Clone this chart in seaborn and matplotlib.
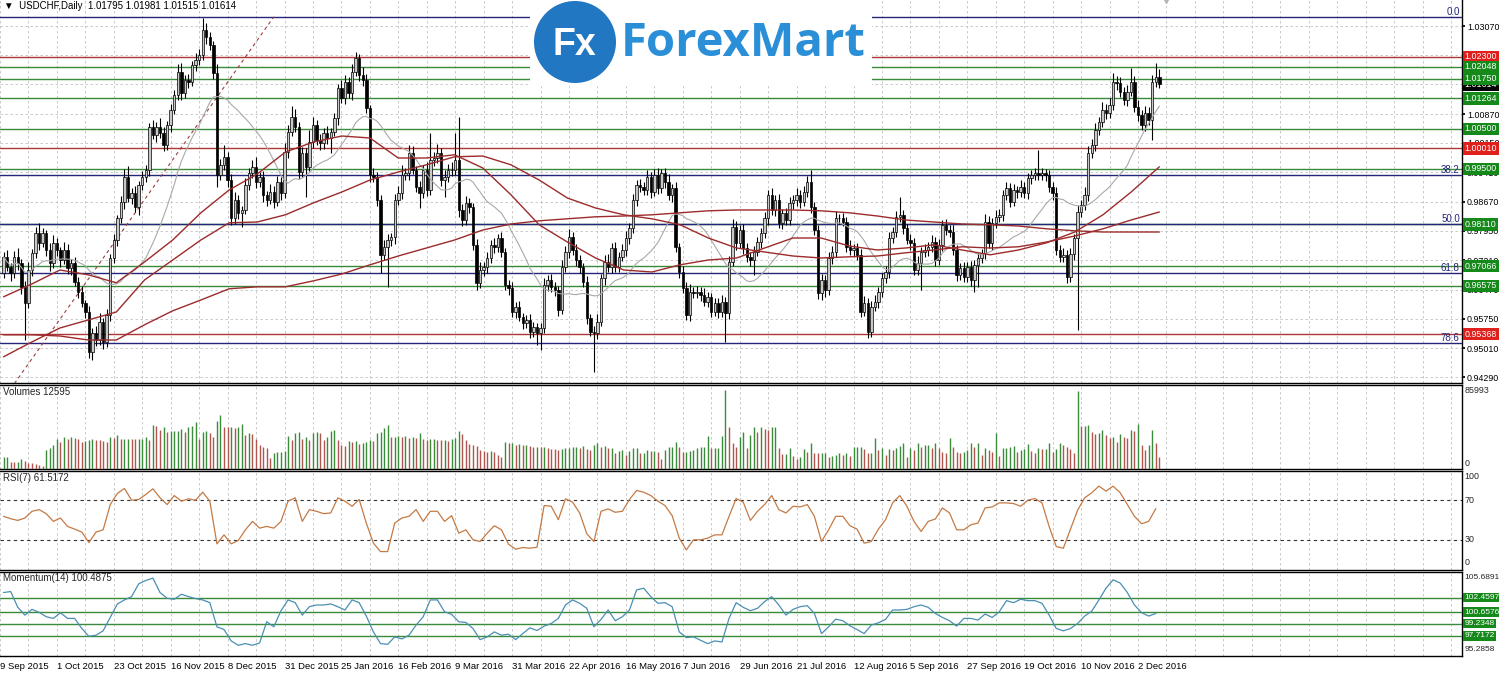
import numpy as np
import pandas as pd
import matplotlib
matplotlib.use("Agg")
import matplotlib.pyplot as plt
import seaborn as sns
from matplotlib.patches import Rectangle, Circle

# ---------------- data ----------------
first_open = 0.9690
close = [
    0.9730, 0.9705, 0.9689, 0.9730, 0.9714, 0.9655, 0.9614, 0.9697, 0.9739, 0.9789,
    0.9764, 0.9789, 0.9747, 0.9714, 0.9764, 0.9747, 0.9722, 0.9747, 0.9701, 0.9714,
    0.9668, 0.9643, 0.9614, 0.9593, 0.9493, 0.9539, 0.9522, 0.9568, 0.9518, 0.9585,
    0.9726, 0.9772, 0.9826, 0.9868, 0.9930, 0.9876, 0.9889, 0.9855, 0.9910, 0.9930,
    0.9947, 1.0055, 1.0035, 1.0055, 1.0039, 1.0010, 1.0060, 1.0097, 1.0135, 1.0193,
    1.0139, 1.0172, 1.0168, 1.0210, 1.0222, 1.0235, 1.0297, 1.0280, 1.0260, 1.0189,
    0.9935, 0.9960, 0.9980, 0.9922, 0.9826, 0.9872, 0.9839, 0.9847, 0.9910, 0.9939,
    0.9955, 0.9918, 0.9930, 0.9885, 0.9872, 0.9893, 0.9868, 0.9918, 0.9889, 0.9993,
    1.0043, 1.0080, 1.0055, 0.9943, 0.9989, 0.9955, 1.0018, 1.0060, 1.0022, 1.0014,
    1.0039, 1.0026, 1.0043, 1.0076, 1.0151, 1.0126, 1.0168, 1.0139, 1.0193, 1.0226,
    1.0185, 1.0172, 1.0101, 0.9935, 0.9930, 0.9872, 0.9735, 0.9755, 0.9772, 0.9780,
    0.9872, 0.9889, 0.9935, 0.9939, 0.9989, 0.9947, 0.9905, 0.9889, 0.9947, 0.9897,
    0.9972, 0.9976, 0.9989, 0.9922, 0.9930, 0.9947, 0.9947, 0.9972, 0.9847, 0.9822,
    0.9864, 0.9855, 0.9760, 0.9664, 0.9697, 0.9705, 0.9726, 0.9760, 0.9755, 0.9776,
    0.9743, 0.9660, 0.9651, 0.9593, 0.9605, 0.9580, 0.9564, 0.9572, 0.9543, 0.9555,
    0.9539, 0.9551, 0.9660, 0.9672, 0.9655, 0.9647, 0.9597, 0.9705, 0.9743, 0.9780,
    0.9747, 0.9722, 0.9705, 0.9668, 0.9576, 0.9543, 0.9539, 0.9568, 0.9676, 0.9718,
    0.9705, 0.9751, 0.9705, 0.9730, 0.9747, 0.9776, 0.9801, 0.9872, 0.9910, 0.9905,
    0.9897, 0.9930, 0.9893, 0.9935, 0.9901, 0.9939, 0.9918, 0.9885, 0.9901, 0.9755,
    0.9693, 0.9651, 0.9585, 0.9643, 0.9639, 0.9643, 0.9635, 0.9618, 0.9630, 0.9593,
    0.9614, 0.9593, 0.9618, 0.9589, 0.9718, 0.9805, 0.9764, 0.9797, 0.9751, 0.9730,
    0.9722, 0.9743, 0.9768, 0.9789, 0.9826, 0.9885, 0.9847, 0.9872, 0.9814, 0.9839,
    0.9822, 0.9864, 0.9872, 0.9885, 0.9868, 0.9893, 0.9918, 0.9855, 0.9797, 0.9639,
    0.9672, 0.9647, 0.9726, 0.9743, 0.9826, 0.9826, 0.9818, 0.9755, 0.9747, 0.9751,
    0.9735, 0.9593, 0.9614, 0.9543, 0.9605, 0.9618, 0.9643, 0.9676, 0.9693, 0.9776,
    0.9793, 0.9830, 0.9835, 0.9801, 0.9772, 0.9764, 0.9697, 0.9714, 0.9743, 0.9747,
    0.9755, 0.9768, 0.9722, 0.9760, 0.9810, 0.9797, 0.9793, 0.9747, 0.9685, 0.9701,
    0.9680, 0.9705, 0.9672, 0.9710, 0.9726, 0.9739, 0.9818, 0.9764, 0.9814, 0.9830,
    0.9835, 0.9885, 0.9901, 0.9868, 0.9897, 0.9893, 0.9905, 0.9889, 0.9926, 0.9935,
    0.9939, 0.9935, 0.9939, 0.9935, 0.9905, 0.9889, 0.9747, 0.9730, 0.9735, 0.9680,
    0.9737, 0.9776, 0.9843, 0.9860, 0.9885, 0.9989, 1.0010, 1.0047, 1.0068, 1.0097,
    1.0089, 1.0110, 1.0168, 1.0164, 1.0143, 1.0122, 1.0143, 1.0168, 1.0105, 1.0085,
    1.0060, 1.0089, 1.0072, 1.0168, 1.01795, 1.01614,
]
wick_up_pips = [
    12, 18, 9, 15, 22, 10, 14, 20, 11, 16, 25, 13, 9, 17, 21, 12, 8, 19, 14, 10,
    16, 11, 13, 8, 15, 12, 18, 22, 9, 14, 11, 16, 9, 14, 20, 26, 12, 17, 10, 15,
    13, 9, 18, 12, 21, 15, 10, 14, 11, 19, 22, 13, 16, 9, 18, 14, 31, 17, 12, 10,
    24, 15, 30, 11, 14, 20, 12, 9, 16, 13, 18, 25, 11, 14, 10, 19, 13, 15, 12, 21,
    17, 26, 20, 12, 16, 14, 28, 19, 11, 15, 13, 17, 10, 14, 12, 22, 16, 11, 18, 15,
    12, 20, 14, 9, 16, 11, 13, 18, 15, 10, 14, 17, 24, 12, 20, 18, 11, 15, 13, 19,
    67, 16, 22, 13, 17, 14, 20, 67, 108, 15, 18, 12, 10, 14, 20, 11, 16, 13, 18, 12,
    15, 9, 12, 17, 11, 14, 10, 13, 16, 12, 10, 14, 18, 13, 16, 12, 11, 17, 15, 19,
    13, 16, 12, 10, 15, 11, 14, 18, 12, 16, 20, 14, 17, 12, 15, 18, 13, 16, 11, 14,
    12, 17, 13, 15, 18, 11, 14, 20, 12, 16, 10, 13, 15, 18, 12, 14, 11, 16, 13, 10,
    14, 12, 17, 11, 15, 20, 14, 12, 16, 13, 11, 15, 12, 14, 17, 13, 18, 12, 15, 11,
    14, 16, 12, 18, 13, 15, 14, 29, 11, 13, 16, 12, 15, 13, 18, 11, 14, 12, 16, 10,
    13, 15, 18, 12, 14, 16, 11, 13, 15, 17, 12, 14, 45, 13, 11, 16, 14, 18, 12, 15,
    13, 16, 12, 14, 11, 15, 13, 17, 12, 14, 16, 12, 15, 13, 14, 11, 18, 15, 12, 16,
    14, 12, 17, 13, 15, 11, 16, 12, 14, 13, 12, 58, 14, 11, 13, 12, 15, 13, 16, 12,
    14, 12, 16, 13, 20, 18, 15, 17, 12, 19, 14, 16, 22, 13, 15, 12, 17, 33, 14, 16,
    12, 18, 15, 16, 34, 19,
]
wick_dn_pips = [
    14, 10, 19, 12, 16, 18, 92, 11, 15, 13, 17, 9, 14, 20, 12, 15, 18, 11, 13, 16,
    12, 15, 10, 17, 15, 21, 14, 12, 18, 13, 16, 11, 14, 12, 18, 10, 15, 13, 20, 12,
    14, 16, 11, 19, 13, 15, 12, 17, 10, 14, 18, 12, 15, 11, 16, 13, 14, 19, 12, 15,
    30, 14, 12, 17, 16, 13, 15, 34, 11, 14, 12, 16, 13, 18, 14, 11, 15, 12, 17, 13,
    15, 12, 14, 19, 13, 75, 11, 16, 12, 18, 14, 13, 37, 12, 16, 11, 15, 13, 17, 12,
    16, 14, 12, 18, 13, 15, 46, 12, 100, 14, 17, 12, 15, 13, 16, 11, 14, 38, 12, 15,
    13, 16, 11, 14, 42, 12, 15, 13, 18, 14, 12, 15, 13, 17, 11, 14, 16, 12, 15, 13,
    14, 12, 16, 13, 15, 11, 14, 12, 17, 13, 30, 42, 12, 15, 13, 16, 14, 11, 13, 15,
    12, 14, 16, 13, 15, 12, 97, 14, 11, 16, 13, 15, 12, 14, 11, 16, 13, 12, 15, 14,
    12, 13, 16, 11, 14, 12, 15, 13, 17, 14, 15, 12, 14, 16, 13, 11, 15, 12, 14, 13,
    12, 15, 13, 71, 14, 12, 16, 13, 15, 12, 14, 38, 12, 15, 13, 16, 12, 14, 11, 15,
    13, 12, 15, 14, 16, 12, 13, 15, 12, 14, 16, 17, 12, 14, 13, 15, 11, 14, 12, 16,
    13, 14, 12, 15, 13, 11, 16, 14, 12, 15, 12, 14, 13, 15, 11, 16, 13, 12, 67, 14,
    15, 12, 14, 13, 16, 12, 14, 13, 15, 12, 14, 13, 15, 30, 55, 12, 14, 13, 16, 12,
    13, 15, 12, 14, 11, 16, 13, 12, 15, 14, 12, 14, 13, 15, 12, 16, 13, 14, 12, 15,
    13, 16, 229, 14, 12, 15, 13, 16, 12, 14, 15, 13, 12, 16, 14, 13, 15, 12, 14, 16,
    13, 15, 12, 50, 14, 10,
]
volume = [
    13000, 13500, 8000, 7500, 7800, 11000, 9000, 6500, 6000, 5500,
    4500, 3500, 21000, 23000, 26000, 33000, 29500, 35000, 33000, 35000,
    34000, 33000, 29500, 30000, 31500, 33000, 31500, 31000, 30000, 29500,
    35000, 33500, 36500, 33000, 33000, 33000, 32500, 32000, 32500, 33000,
    34500, 31500, 47500, 46500, 42500, 45500, 40500, 41000, 41000, 41500,
    43000, 40500, 45000, 47000, 50500, 33000, 40500, 41000, 38500, 35000,
    52000, 58500, 46000, 45500, 45500, 44500, 45500, 48500, 37000, 38500,
    38000, 33000, 26000, 24000, 22500, 11500, 17000, 18000, 18500, 20000,
    36000, 31000, 39000, 40500, 33000, 35000, 31500, 38500, 40000, 38500,
    31000, 35000, 41000, 42000, 31500, 26500, 25000, 30500, 29000, 30000,
    27500, 28500, 29500, 31000, 30000, 38500, 40500, 44000, 47500, 35000,
    35000, 36000, 35000, 35500, 33500, 35000, 33500, 38500, 33000, 31500,
    33000, 33000, 31500, 31000, 31500, 30000, 32000, 33500, 41000, 38000,
    31000, 27500, 26000, 25000, 20500, 20000, 18500, 19000, 18000, 15000,
    13357, 29602, 27797, 28519, 25992, 26714, 25992, 25992, 24909, 24187,
    24187, 23465, 24187, 22382, 21660, 21299, 20577, 21660, 23104, 23104,
    23465, 24187, 22382, 24909, 21660, 20577, 25992, 27797, 24187, 24909,
    22382, 22382, 17689, 19855, 20577, 15162, 19494, 22382, 22382, 16967,
    16967, 20577, 19855, 19855, 18772, 10469, 20577, 23465, 24187, 29602,
    23465, 18772, 18772, 19494, 20577, 22382, 23465, 24187, 35739, 22382,
    22382, 22382, 35739, 85993, 45847, 27797, 24187, 35017, 40432, 22382,
    36822, 45125, 40432, 45125, 42959, 42237, 45125, 45125, 22382, 16245,
    16245, 22382, 14079, 10469, 13357, 21299, 18772, 28519, 17689, 16967,
    16967, 16967, 12635, 14079, 15162, 16967, 15162, 16967, 14440, 23465,
    23465, 23465, 21299, 16967, 16967, 33212, 20577, 22382, 15162, 21299,
    20577, 22382, 25270, 27797, 12635, 22382, 20577, 27797, 23465, 25992,
    25992, 22382, 27797, 22382, 18772, 16967, 33212, 23465, 18772, 16967,
    18772, 20577, 27797, 24187, 27797, 15162, 22382, 20577, 18772, 38627,
    14079,
    22382, 23104, 24187, 24909, 18772, 20577, 21299, 27075, 19494, 17689,
    22382, 21660, 21660, 27797, 18772, 21660, 28519, 25992, 24187, 21660,
    17689, 84500, 46569, 46569, 47652, 40432, 37905, 38627, 42237, 36822,
    33212, 35017, 29602, 37544, 35017, 33212, 42237, 41515, 48735, 25992,
    20577, 25992, 42237, 27797, 12595,
]
# RSI(7) and Momentum(14), read on every second bar
rsi7 = [
    53.7, 51.3, 49.6, 52.0, 58.8, 60.5, 56.4, 48.6, 52.0, 43.5,
    40.8, 37.8, 27.2, 37.8, 40.1, 65.6, 76.8, 81.9, 70.0, 70.7,
    75.8, 81.5, 72.4, 65.6, 74.7, 69.0, 71.4, 70.0, 78.1, 69.0,
    25.9, 35.0, 25.9, 29.3, 40.1, 48.6, 41.8, 43.5, 41.8, 48.6,
    69.0, 72.4, 48.6, 60.5, 58.8, 56.4, 57.1, 72.4, 69.0, 63.9,
    70.7, 46.9, 26.6, 18.1, 18.1, 46.9, 52.0, 53.7, 60.5, 48.6,
    58.8, 58.8, 48.6, 54.4, 36.7, 40.1, 30.0, 28.3, 36.7, 44.2,
    40.1, 25.5, 20.5, 22.2, 21.5, 22.5, 64.6, 63.9, 50.3, 71.4,
    68.0, 57.1, 36.1, 28.3, 58.8, 61.2, 57.8, 58.8, 70.7, 79.8,
    78.1, 74.7, 69.0, 64.6, 54.4, 31.7, 19.8, 30.0, 30.0, 31.7,
    35.0, 35.0, 53.7, 71.7, 68.0, 49.6, 58.8, 65.6, 74.7, 60.5,
    57.1, 63.9, 63.2, 65.6, 53.7, 28.3, 40.1, 53.7, 53.7, 44.2,
    40.8, 26.6, 28.3, 40.8, 50.3, 67.3, 74.7, 63.9, 48.6, 38.4,
    48.6, 51.0, 62.2, 57.1, 40.1, 40.1, 45.2, 46.9, 62.2, 63.2,
    67.3, 67.3, 66.6, 63.9, 70.0, 71.7, 67.3, 43.5, 23.2, 21.5,
    40.8, 59.8, 72.4, 77.5, 84.2, 79.2, 84.2, 77.5, 65.6, 53.7,
    46.2, 48.6, 61.5,
]
momentum14 = [
    103.08, 103.21, 101.25, 100.29, 101.00, 100.63, 100.09, 99.88, 100.58, 99.88,
    99.88, 98.63, 97.67, 97.80, 98.34, 100.00, 101.67, 102.17, 102.58, 104.16,
    104.58, 104.87, 103.08, 102.37, 102.25, 102.87, 102.58, 102.33, 102.17, 101.83,
    98.84, 98.50, 97.09, 96.55, 96.76, 96.55, 96.84, 99.46, 98.84, 100.83,
    102.17, 101.83, 100.29, 101.33, 101.54, 101.54, 101.67, 101.33, 100.92, 102.17,
    101.83, 100.17, 98.21, 96.76, 96.67, 97.59, 97.34, 97.80, 99.05, 100.09,
    102.17, 102.17, 100.71, 100.38, 99.46, 99.38, 98.63, 97.25, 97.59, 98.21,
    97.80, 97.92, 97.25, 98.00, 98.71, 98.38, 98.92, 99.25, 99.88, 101.54,
    102.17, 101.75, 101.13, 98.84, 99.75, 100.92, 99.59, 100.09, 100.92, 103.41,
    103.62, 102.58, 101.75, 101.83, 101.33, 98.21, 97.50, 97.59, 97.17, 96.76,
    97.09, 96.96, 99.88, 101.83, 101.25, 100.83, 101.13, 101.96, 102.58, 101.54,
    100.29, 101.00, 101.33, 101.46, 100.50, 98.00, 98.84, 99.79, 99.59, 98.96,
    98.50, 98.00, 99.05, 99.34, 99.75, 100.92, 100.92, 101.00, 101.33, 101.54,
    101.25, 100.50, 100.00, 99.59, 98.92, 99.88, 99.88, 99.67, 100.42, 100.00,
    100.71, 102.08, 101.83, 102.25, 102.08, 102.08, 101.75, 100.29, 98.63, 98.34,
    98.63, 99.25, 100.17, 100.79, 102.17, 103.62, 104.66, 104.25, 103.08, 101.54,
    100.59, 100.17, 100.49,
]
# long moving averages, read at 42 evenly spaced points across the bars
ma50 = [
    0.9630, 0.9662, 0.9697, 0.9685, 0.9665, 0.9717, 0.9772, 0.9840, 0.9897, 0.9937,
    0.9992, 1.0017, 1.0032, 1.0027, 0.9977, 0.9977, 0.9985, 0.9952, 0.9885, 0.9810,
    0.9767, 0.9727, 0.9697, 0.9692, 0.9710, 0.9722, 0.9727, 0.9752, 0.9777, 0.9777,
    0.9757, 0.9747, 0.9752, 0.9760, 0.9747, 0.9735, 0.9747, 0.9765, 0.9792, 0.9835,
    0.9892, 0.9955,
]
ma100 = [
    0.9480, 0.9517, 0.9552, 0.9572, 0.9592, 0.9672, 0.9722, 0.9772, 0.9815, 0.9817,
    0.9835, 0.9865, 0.9892, 0.9922, 0.9942, 0.9960, 0.9980, 0.9982, 0.9960, 0.9922,
    0.9877, 0.9852, 0.9835, 0.9825, 0.9810, 0.9777, 0.9752, 0.9742, 0.9732, 0.9727,
    0.9730, 0.9732, 0.9740, 0.9747, 0.9755, 0.9752, 0.9755, 0.9767, 0.9782, 0.9800,
    0.9822, 0.9842,
]
ma200 = [
    0.9535, 0.9535, 0.9532, 0.9522, 0.9522, 0.9560, 0.9595, 0.9622, 0.9650, 0.9655,
    0.9655, 0.9670, 0.9687, 0.9710, 0.9732, 0.9752, 0.9772, 0.9797, 0.9812, 0.9820,
    0.9825, 0.9830, 0.9832, 0.9835, 0.9840, 0.9845, 0.9847, 0.9847, 0.9847, 0.9845,
    0.9840, 0.9832, 0.9822, 0.9817, 0.9812, 0.9810, 0.9807, 0.9800, 0.9795, 0.9792,
    0.9792, 0.9792,
]

price_ticks = [1.03070, 1.02350, 1.01610, 1.00870, 1.00150, 0.99410, 0.98670,
               0.97950, 0.97210, 0.96470, 0.95750, 0.95010, 0.94290]
levels = [1.02300, 1.02048, 1.01750, 1.01264, 1.00500, 1.00010, 0.99500,
          0.98110, 0.97066, 0.96575, 0.95368]
level_side = ['r', 'g', 'g', 'g', 'g', 'r', 'g', 'g', 'g', 'g', 'r']
last_bid = 1.01614
fib_high, fib_low = 1.0330, 0.9293
fib_high_bar, fib_low_bar = 76, -6.5
fib_ratios = [0.0, 38.2, 50.0, 61.8, 78.6]
mom_levels = [102.4597, 100.6576, 99.2348, 97.7172]
mom_range = (95.2858, 105.6891)
vol_max_label = 85993
date_labels = ['9 Sep 2015', '1 Oct 2015', '23 Oct 2015', '16 Nov 2015', '8 Dec 2015',
               '31 Dec 2015', '25 Jan 2016', '16 Feb 2016', '9 Mar 2016', '31 Mar 2016',
               '22 Apr 2016', '16 May 2016', '7 Jun 2016', '29 Jun 2016', '21 Jul 2016',
               '12 Aug 2016', '5 Sep 2016', '27 Sep 2016', '19 Oct 2016', '10 Nov 2016',
               '2 Dec 2016']

# ---------------- style ----------------
sns.set_theme(style='white')
plt.rcParams['font.family'] = ['Liberation Sans', 'DejaVu Sans']

NAVY = '#25257a'
LRED = '#b03535'
LGREEN = '#3b8a3b'
BOX_RED = '#e0201c'
BOX_GREEN = '#15891a'
MA_RED = '#9c2b2b'
GRID = '#c2c2c2'
FS = 7      # text inside the chart
FSR = 6.4   # price scale on the right

W, H = 1499, 674
fig = plt.figure(figsize=(W / 100, H / 100), dpi=100)
fig.patch.set_facecolor('white')


def panel(top, bottom):
    return fig.add_axes([0, 1 - bottom / H, 1462 / W, (bottom - top) / H])


ax = panel(0, 382.5)
axv = panel(384.5, 469)
axr = panel(470.5, 569.5)
axm = panel(571.5, 655.5)

n = len(close)
bars = np.arange(n)
grid_x = np.arange(-1, 411, 8)
RX = 1 + 2.5 / 1462   # left edge of the right-hand labels

for a in (ax, axv, axr, axm):
    a.set_facecolor('white')
    a.set_xlim(-0.56, 410.1)
    for s in ('top', 'bottom', 'right'):
        a.spines[s].set_visible(True)
        a.spines[s].set_color('black')
        a.spines[s].set_linewidth(1.0)
    a.spines['left'].set_visible(False)
    a.set_xticks(grid_x)
    a.grid(axis='x', color=GRID, lw=0.6, ls=(0, (3, 3)))
    a.tick_params(axis='x', length=0, labelbottom=False)
    a.set_xlabel('')
    a.set_ylabel('')
ax.spines['top'].set_visible(False)

# ---------------- main price panel ----------------
ax.set_ylim(1.0372 - 382.5 / 4000, 1.0372)
ax.yaxis.tick_right()
ax.set_yticks(price_ticks)
# the two scale values fully hidden by price boxes are left blank
hidden = {1.02350, 1.01610}
ax.set_yticklabels(['' if v in hidden else f'{v:.5f}' for v in price_ticks])
ax.tick_params(axis='y', length=2, pad=1.5, labelsize=FSR, colors='black', direction='out', right=True)
ax.grid(axis='y', color=GRID, lw=0.6, ls=(0, (3, 3)))

for lv, side in zip(levels, level_side):
    ax.axhline(lv, color=LRED if side == 'r' else LGREEN, lw=1.0, zorder=2.5)

span = fib_high - fib_low
for r in fib_ratios:
    lv = fib_high - r / 100 * span
    ax.axhline(lv, color=NAVY, lw=1.0, zorder=2.6)
    ax.text(0.9985, lv, f'{r:.1f}', transform=ax.get_yaxis_transform(), ha='right',
            va='bottom', fontsize=FS, color=NAVY, zorder=6)

ax.plot([fib_low_bar, fib_high_bar], [fib_low, fib_high], color='#9b3d3d', lw=0.8,
        ls=(0, (3, 3)), zorder=2.7)

c = np.array(close)
o = np.r_[first_open, c[:-1]]
hi = np.maximum(o, c) + np.array(wick_up_pips) * 1e-4
lo = np.minimum(o, c) - np.array(wick_dn_pips) * 1e-4
bull = c >= o
ax.vlines(bars, lo, hi, color='black', lw=0.8, zorder=3)
ax.bar(bars, np.maximum(np.abs(c - o), 0.00006), bottom=np.minimum(o, c), width=0.68,
       color=np.where(bull, '#c8c8c8', 'black'), edgecolor='black', linewidth=0.5, zorder=4)

ma21 = pd.Series(c).rolling(21, min_periods=1).mean()
sns.lineplot(x=bars, y=ma21.values, ax=ax, color='#a9a9a9', lw=0.8, estimator=None,
             sort=False, legend=False, zorder=5)
ma_x = np.linspace(0, n - 1, len(ma50))
for ma in (ma200, ma100, ma50):
    sns.lineplot(x=ma_x, y=ma, ax=ax, color=MA_RED, lw=1.0, estimator=None,
                 sort=False, legend=False, zorder=5)

ytr = ax.get_yaxis_transform()
ax.text(RX, last_bid, f'{last_bid:.5f}', transform=ytr, ha='left', va='center',
        fontsize=FSR, color='white', clip_on=False, zorder=7,
        bbox=dict(boxstyle='square,pad=0.2', fc='black', ec='none'))
for lv, side in zip(levels, level_side):
    ax.text(RX, lv, f'{lv:.5f}', transform=ytr, ha='left', va='center',
            fontsize=FSR, color='white', clip_on=False, zorder=8,
            bbox=dict(boxstyle='square,pad=0.2', fc=BOX_RED if side == 'r' else BOX_GREEN, ec='none'))

ax.text(0.003, 1 - 6 / 382.5, '\u25bc  USDCHF,Daily  1.01795 1.01981 1.01515 1.01614',
        transform=ax.transAxes, fontsize=FS, va='center', ha='left', color='black', zorder=9)
ax.plot([n + 1], [ax.get_ylim()[1]], marker='v', color='#b5b5b5', ms=5, clip_on=False, zorder=9)

# ---------------- volumes ----------------
vol = np.array(volume)
up_vol = np.r_[True, vol[1:] >= vol[:-1]]
axv.vlines(bars, 0, vol, colors=np.where(up_vol, '#3c8a3c', '#b0564e'), lw=1.0, zorder=3)
axv.set_ylim(0, 91500)
axv.set_yticks([])
axv.text(0.002, 1 - 7.5 / 84.5, f'Volumes {volume[-1]}', transform=axv.transAxes,
         fontsize=FS, va='center', ha='left')
axv.text(RX, 1 - 6 / 84.5, f'{vol_max_label}', transform=axv.transAxes,
         fontsize=FSR, va='center', ha='left', clip_on=False)
axv.text(RX, 6 / 84.5, '0', transform=axv.transAxes, fontsize=FSR,
         va='center', ha='left', clip_on=False)

# ---------------- RSI ----------------
rsi_x = np.arange(len(rsi7)) * 2
sns.lineplot(x=rsi_x, y=rsi7, ax=axr, color='#c47a45', lw=0.9, estimator=None,
             sort=False, legend=False, zorder=4)
axr.set_ylim(0, 100)
axr.set_yticks([])
for lv in (70, 30):
    axr.axhline(lv, color='#333333', lw=0.8, ls=(0, (3, 3)), zorder=3)
rtr = axr.get_yaxis_transform()
axr.text(0.002, 1 - 7.5 / 99, 'RSI(7) 61.5172', transform=axr.transAxes,
         fontsize=FS, va='center', ha='left')
for txt, yy in (('100', 94.3), ('70', 70), ('30', 30), ('0', 6.8)):
    axr.text(RX, yy, txt, transform=rtr, fontsize=FSR, va='center', ha='left',
             clip_on=False)

# ---------------- Momentum ----------------
mom_x = np.arange(len(momentum14)) * 2
sns.lineplot(x=mom_x, y=momentum14, ax=axm, color='#4a8fb3', lw=0.9, estimator=None,
             sort=False, legend=False, zorder=4)
axm.set_ylim(*mom_range)
axm.set_yticks([])
mtr = axm.get_yaxis_transform()
for lv in mom_levels:
    axm.axhline(lv, color=LGREEN, lw=1.0, zorder=3)
    axm.text(RX, lv, f'{lv:.4f}', transform=mtr, ha='left', va='center',
             fontsize=6.0, color='white', clip_on=False, zorder=7,
             bbox=dict(boxstyle='square,pad=0.15', fc=BOX_GREEN, ec='none'))
axm.text(0.002, 1 - 6.5 / 84, 'Momentum(14) 100.4875', transform=axm.transAxes,
         fontsize=FS, va='center', ha='left')
axm.text(RX, 1 - 6 / 84, f'{mom_range[1]:.4f}', transform=axm.transAxes,
         fontsize=6.0, va='center', ha='left', clip_on=False)
axm.text(RX, 6 / 84, f'{mom_range[0]:.4f}', transform=axm.transAxes,
         fontsize=6.0, va='center', ha='left', clip_on=False)

labels = [date_labels[k // 2] if k % 2 == 0 and k // 2 < len(date_labels) else ''
          for k in range(len(grid_x))]
axm.set_xticks(grid_x)
axm.set_xticklabels(labels, ha='left', fontsize=6.8)
axm.tick_params(axis='x', length=3, pad=1.5, labelbottom=True, colors='black')

# ---------------- ForexMart logo ----------------
fig.add_artist(Rectangle((530 / W, 1 - 85 / H), 342 / W, 85 / H, transform=fig.transFigure,
                         fc='white', ec='none', zorder=10))
fig.add_artist(Circle((5.75, (H - 42) / 100), 0.41, transform=fig.dpi_scale_trans,
                      fc='#2177c2', ec='none', zorder=11))
fig.text(574 / W, 1 - 45 / H, 'Fx', color='white', fontsize=27, fontweight='bold',
         ha='center', va='center', zorder=12)
fig.text(621 / W, 1 - 43 / H, 'ForexMart', color='#2b8fd8', fontsize=34,
         fontweight='bold', ha='left', va='center', zorder=12,
         family=['Open Sans', 'DejaVu Sans'])

fig.savefig('out.png', dpi=100, facecolor='white')
